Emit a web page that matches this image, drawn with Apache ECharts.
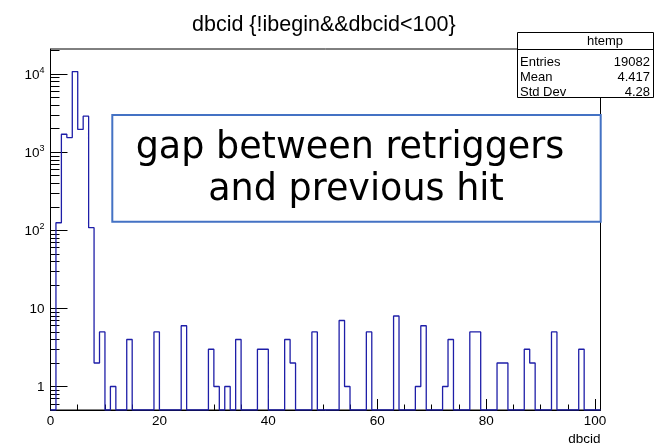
<!DOCTYPE html>
<html>
<head>
<meta charset="utf-8">
<script src="https://cdn.jsdelivr.net/npm/echarts@6/dist/echarts.min.js"></script>
<style>html,body{margin:0;padding:0;background:#fff}#c{width:665px;height:446px}</style>
</head>
<body>
<div id="c"></div>
<script>
// ---- data (bin k covers [k, k+1)) ----
const binLow = [0,1,2,3,4,5,6,7,8,9,10,11,12,13,14,15,16,17,18,19,20,21,22,23,24,25,26,27,28,29,30,31,32,33,34,35,36,37,38,39,40,41,42,43,44,45,46,47,48,49,50,51,52,53,54,55,56,57,58,59,60,61,62,63,64,65,66,67,68,69,70,71,72,73,74,75,76,77,78,79,80,81,82,83,84,85,86,87,88,89,90,91,92,93,94,95,96,97,98,99,100];
const counts = [0,125,1700,1540,10800,1960,2900,108,2,5,0,1,0,0,4,0,0,0,0,5,0,0,0,0,6,0,0,0,0,3,1,0,1,0,4,0,0,0,3,3,0,0,0,4,2,0,0,0,5,0,0,0,0,7,1,0,0,0,5,0,0,0,0,8,0,0,0,1,6,0,0,0,1,4,0,0,0,5,5,0,0,0,2,2,0,0,0,3,2,0,0,0,5,0,0,0,0,3,0,0,0];
const xTicks = [0,20,40,60,80,100];
const xMinorTicks = [5,10,15,25,30,35,45,50,55,65,70,75,85,90,95];
const yTicks = [1,10,100,1000,10000];
const yMinorTicks = [0.6,0.7,0.8,0.9,2,3,4,5,6,7,8,9,20,30,40,50,60,70,80,90,200,300,400,500,600,700,800,900,2000,3000,4000,5000,6000,7000,8000,9000,20000];
const titleText = 'dbcid {!ibegin&&dbcid<100}';
const xName = 'dbcid';
const statsName = 'htemp';
const statsLabels = ['Entries','Mean','Std Dev'];
const statsValues = ['19082','4.417','4.28'];
const noteLines = ['gap between retriggers','and previous hit'];

const xMin = 0, xMax = 101, yMin = 0.5, yMax = 21000;

// step outline: empty bins drop to the frame floor, as ROOT does on a log scale
const stepData = binLow.map((x, i) => [x, counts[i] > 0 ? counts[i] : yMin]);
stepData.push([binLow[binLow.length - 1] + 1, counts[counts.length - 1] > 0 ? counts[counts.length - 1] : yMin]);

const FONT = 'Liberation Sans';
function yLabel(v) {
  const e = Math.round(Math.log10(v));
  if (e === 0) return '{b|1}';
  if (e === 1) return '{b|10}';
  return '{b|10}{s|' + e + '}';
}

const chart = echarts.init(document.getElementById('c'), null, {renderer: 'canvas'});
chart.setOption({
  animation: false,
  backgroundColor: '#ffffff',
  title: {
    text: titleText, left: 187, top: 9,
    textStyle: {fontFamily: FONT, fontSize: 21.5, fontWeight: 'normal', color: '#000'}
  },
  grid: {left: 50.5, right: 64.5, top: 49, bottom: 33.5, show: true, borderColor: '#000', borderWidth: 1},
  xAxis: [{
    type: 'value', min: xMin, max: xMax,
    name: xName, nameLocation: 'end', nameGap: 0,
    nameTextStyle: {fontFamily: FONT, fontSize: 13.5, color: '#000', align: 'right', verticalAlign: 'top', padding: [22, 0, 0, 0]},
    axisLine: {show: true, lineStyle: {color: '#000', width: 1}},
    axisTick: {show: true, inside: true, length: 11, lineStyle: {color: '#000', width: 1}, customValues: xTicks},
    axisLabel: {fontFamily: FONT, fontSize: 13.5, color: '#000', margin: 4, customValues: xTicks},
    splitLine: {show: false}
  }, {
    type: 'value', min: xMin, max: xMax, position: 'bottom',
    axisLine: {show: false},
    axisTick: {show: true, inside: true, length: 5.5, lineStyle: {color: '#000', width: 1}, customValues: xMinorTicks},
    axisLabel: {show: false},
    splitLine: {show: false}
  }],
  yAxis: [{
    type: 'log', logBase: 10, min: yMin, max: yMax,
    axisLine: {show: true, lineStyle: {color: '#000', width: 1}},
    axisTick: {show: true, inside: true, length: 17, lineStyle: {color: '#000', width: 1}, customValues: yTicks},
    axisLabel: {
      margin: 6, customValues: yTicks, formatter: yLabel,
      rich: {
        b: {fontFamily: FONT, fontSize: 13.5, color: '#000', lineHeight: 16, verticalAlign: 'bottom'},
        s: {fontFamily: FONT, fontSize: 9, color: '#000', verticalAlign: 'top', lineHeight: 9}
      }
    },
    splitLine: {show: false}
  }, {
    type: 'log', logBase: 10, min: yMin, max: yMax, position: 'left',
    axisLine: {show: false},
    axisTick: {show: true, inside: true, length: 9, lineStyle: {color: '#000', width: 1}, customValues: yMinorTicks},
    axisLabel: {show: false},
    splitLine: {show: false}
  }],
  series: [{
    type: 'line', step: 'end', xAxisIndex: 0, yAxisIndex: 0,
    data: stepData, showSymbol: false, symbol: 'none', clip: true,
    lineStyle: {color: '#1e1ea8', width: 1.3},
    z: 3
  }],
  graphic: [
    {type: 'rect', z: 100, shape: {x: 112.3, y: 115, width: 488.4, height: 106.7},
     style: {fill: '#fff', stroke: '#4472c4', lineWidth: 2}},
    {type: 'text', z: 101, x: 350, y: 148.5,
     style: {text: noteLines[0], fontFamily: 'DejaVu Sans', fontSize: 36.5, fill: '#000', align: 'center', verticalAlign: 'middle'}},
    {type: 'text', z: 101, x: 356, y: 190.8,
     style: {text: noteLines[1], fontFamily: 'DejaVu Sans', fontSize: 36.5, fill: '#000', align: 'center', verticalAlign: 'middle'}},
    {type: 'rect', z: 100, shape: {x: 517.5, y: 32.5, width: 136, height: 65},
     style: {fill: '#fff', stroke: '#000', lineWidth: 1}},
    {type: 'line', z: 101, shape: {x1: 517.5, y1: 49.5, x2: 653.5, y2: 49.5},
     style: {stroke: '#000', lineWidth: 1}},
    {type: 'text', z: 101, x: 605, y: 41.5,
     style: {text: statsName, fontFamily: FONT, fontSize: 13, fill: '#000', align: 'center', verticalAlign: 'middle'}},
    {type: 'text', z: 101, x: 520, y: 62,
     style: {text: statsLabels[0], fontFamily: FONT, fontSize: 13, fill: '#000', align: 'left', verticalAlign: 'middle'}},
    {type: 'text', z: 101, x: 520, y: 77.3,
     style: {text: statsLabels[1], fontFamily: FONT, fontSize: 13, fill: '#000', align: 'left', verticalAlign: 'middle'}},
    {type: 'text', z: 101, x: 520, y: 92.5,
     style: {text: statsLabels[2], fontFamily: FONT, fontSize: 13, fill: '#000', align: 'left', verticalAlign: 'middle'}},
    {type: 'text', z: 101, x: 650, y: 62,
     style: {text: statsValues[0], fontFamily: FONT, fontSize: 13, fill: '#000', align: 'right', verticalAlign: 'middle'}},
    {type: 'text', z: 101, x: 650, y: 77.3,
     style: {text: statsValues[1], fontFamily: FONT, fontSize: 13, fill: '#000', align: 'right', verticalAlign: 'middle'}},
    {type: 'text', z: 101, x: 650, y: 92.5,
     style: {text: statsValues[2], fontFamily: FONT, fontSize: 13, fill: '#000', align: 'right', verticalAlign: 'middle'}}
  ]
});
</script>
</body>
</html>
